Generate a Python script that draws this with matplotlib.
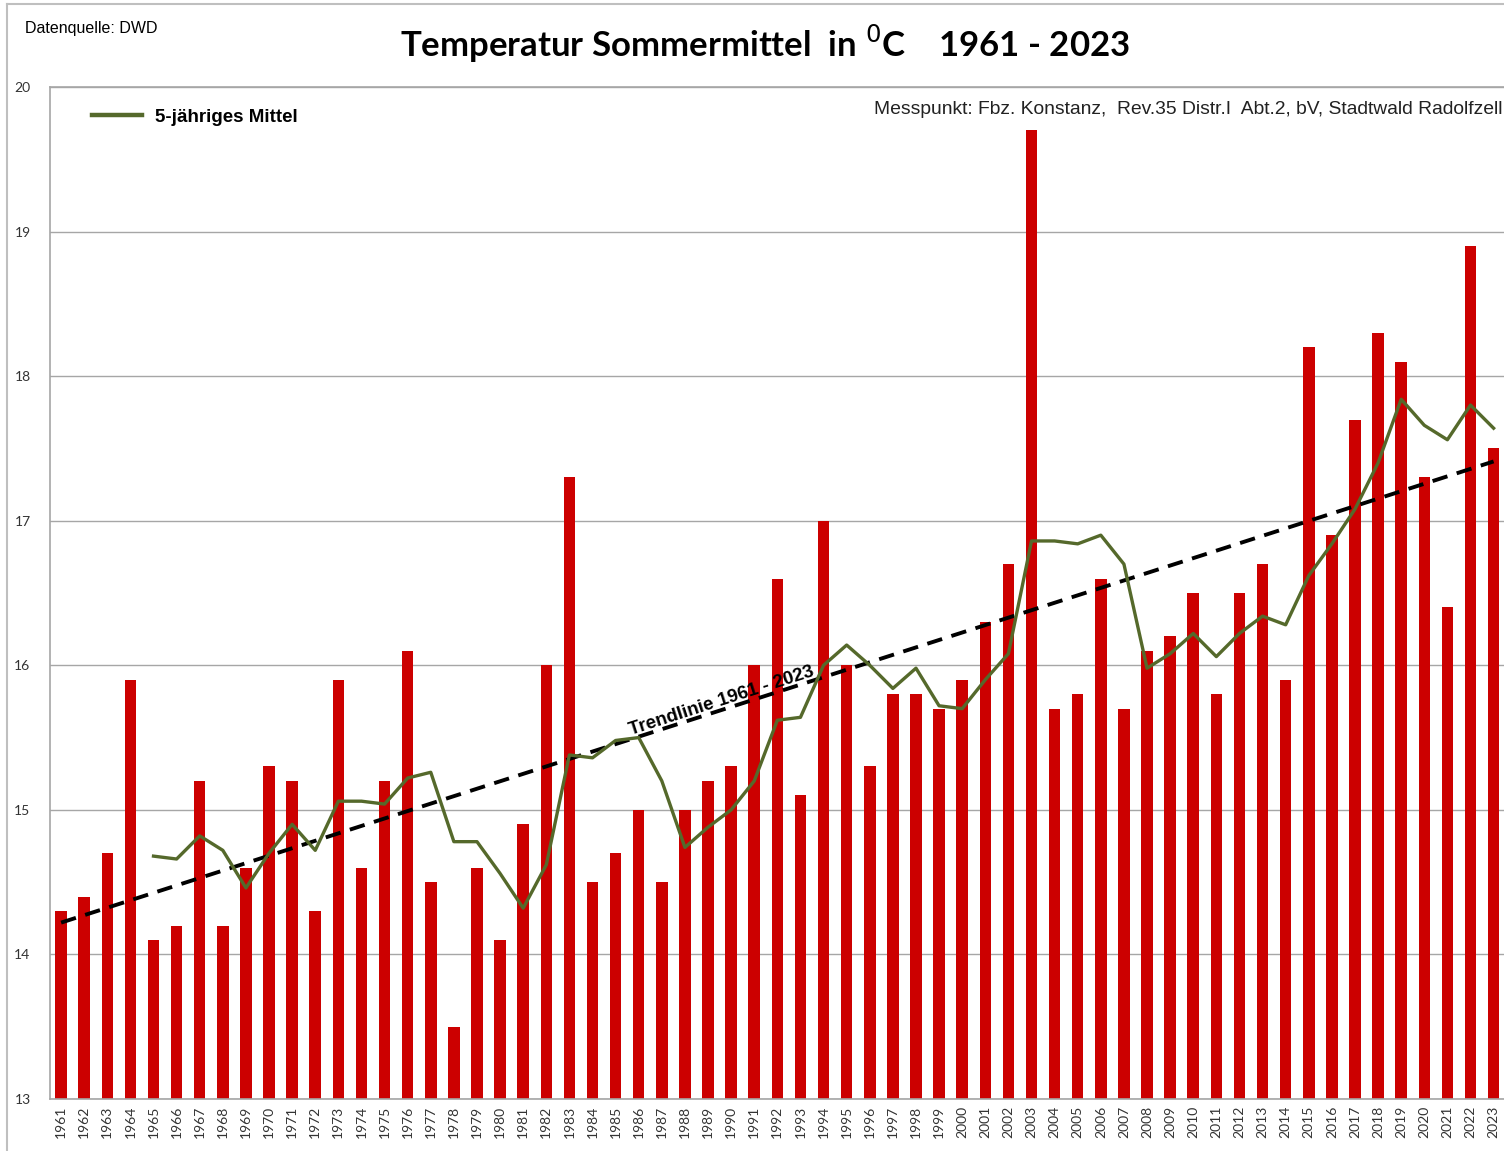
import matplotlib.pyplot as plt
import numpy as np
from matplotlib.lines import Line2D

# Sommermittel Temperatur 1961 - 2023
years = list(range(1961, 2024))
temps = [
    14.3, 14.4, 14.7, 15.9, 14.1, 14.2, 15.2, 14.2, 14.6, 15.3,   # 1961-1970
    15.2, 14.3, 15.9, 14.6, 15.2, 16.1, 14.5, 13.5, 14.6, 14.1,   # 1971-1980
    14.9, 16.0, 17.3, 14.5, 14.7, 15.0, 14.5, 15.0, 15.2, 15.3,   # 1981-1990
    16.0, 16.6, 15.1, 17.0, 16.0, 15.3, 15.8, 15.8, 15.7, 15.9,   # 1991-2000
    16.3, 16.7, 19.7, 15.7, 15.8, 16.6, 15.7, 16.1, 16.2, 16.5,   # 2001-2010
    15.8, 16.5, 16.7, 15.9, 18.2, 16.9, 17.7, 18.3, 18.1, 17.3,   # 2011-2020
    16.4, 18.9, 17.5,                                             # 2021-2023
]

# 5-jähriges Mittel, ab 1965
mittel_years = list(range(1965, 2024))
mittel = [
    14.68, 14.66, 14.82, 14.72, 14.46, 14.70, 14.90, 14.72, 15.06, 15.06,
    15.04, 15.22, 15.26, 14.78, 14.78, 14.56, 14.32, 14.62, 15.38, 15.36,
    15.48, 15.50, 15.20, 14.74, 14.88, 15.00, 15.20, 15.62, 15.64, 16.00,
    16.14, 16.00, 15.84, 15.98, 15.72, 15.70, 15.90, 16.08, 16.86, 16.86,
    16.84, 16.90, 16.70, 15.98, 16.08, 16.22, 16.06, 16.22, 16.34, 16.28,
    16.62, 16.84, 17.08, 17.40, 17.84, 17.66, 17.56, 17.80, 17.64,
]

# Trendlinie (Anfang / Ende)
trend_years = [1961, 2023]
trend_vals = [14.22, 17.41]

red = '#CC0000'
green = '#55692B'
grid_gray = '#A6A6A6'

fig = plt.figure(figsize=(15.04, 11.51), dpi=100)
ax = fig.add_axes([50 / 1504, 1 - 1099 / 1151, 1 - 50 / 1504, (1099 - 87) / 1151])

x = np.arange(len(years))
ax.bar(x, temps, width=0.5, color=red, zorder=2)

x_m = [years.index(y) for y in mittel_years]
ax.plot(x_m, mittel, color=green, linewidth=2.4, zorder=4)

x_t = [years.index(y) for y in trend_years]
ax.plot(x_t, trend_vals, color='black', linestyle=(0, (4, 2.5)), linewidth=2.8, zorder=3)

ax.set_ylim(13, 20)
ax.set_xlim(-0.48, 62.45)
ax.set_yticks(range(13, 21))
ax.set_yticklabels([str(v) for v in range(13, 21)], fontsize=10, family='Lato', color='#333333')
ax.set_xticks(x)
ax.set_xticklabels([str(y) for y in years], rotation=90, fontsize=10, family='Lato', color='#333333')
ax.tick_params(axis='both', length=0)
ax.tick_params(axis='y', pad=14)
ax.tick_params(axis='x', pad=5)
ax.grid(axis='y', color=grid_gray, linewidth=1.0, zorder=0)
ax.set_axisbelow(True)
for side in ['left', 'top', 'bottom']:
    ax.spines[side].set_color(grid_gray)
    ax.spines[side].set_linewidth(1.2)
ax.spines['right'].set_visible(False)

# Trendlinie Beschriftung
ang = np.degrees(np.arctan(463 / 1433))
ax.text(28.6, 15.75, 'Trendlinie 1961 - 2023', rotation=ang, rotation_mode='anchor',
        ha='center', va='center', fontsize=13.5, fontweight='bold', family='Liberation Sans', zorder=5)

# Legende
leg = ax.legend([Line2D([0], [0], color=green, linewidth=3.2)], ['5-jähriges Mittel'],
                loc='upper left', bbox_to_anchor=(0.017, 0.995), frameon=False,
                handlelength=2.7, handletextpad=0.7,
                prop={'family': 'Liberation Sans', 'weight': 'bold', 'size': 13.5})

# Texte
fig.text(765 / 1504, 1 - 44 / 1151, 'Temperatur Sommermittel  in $^0$C    1961 - 2023',
         ha='center', va='center', fontsize=25, fontweight='bold', family='Lato')
fig.text(25 / 1504, 1 - 28 / 1151, 'Datenquelle: DWD', ha='left', va='center',
         fontsize=11.5, family='Liberation Sans')
fig.text(1502 / 1504, 1 - 110 / 1151,
         'Messpunkt: Fbz. Konstanz,  Rev.35 Distr.I  Abt.2, bV, Stadtwald Radolfzell',
         ha='right', va='center', fontsize=13.9, family='Liberation Sans', color='#222222')

# aeusserer Rahmen
fig.add_artist(Line2D([7 / 1504, 7 / 1504], [0, 1 - 4 / 1151], color='#BFBFBF', linewidth=1.5))
fig.add_artist(Line2D([7 / 1504, 1], [1 - 4 / 1151, 1 - 4 / 1151], color='#BFBFBF', linewidth=1.5))

plt.savefig('out.png', dpi=100)
